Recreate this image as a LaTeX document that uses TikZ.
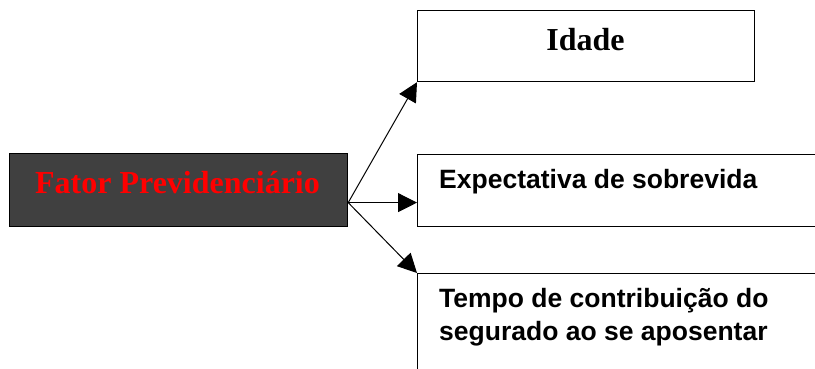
\documentclass[tikz,border=0pt]{standalone}
\usepackage{fontspec}
\setmainfont{Liberation Serif}
\newfontfamily\arialf{Liberation Sans}
\usetikzlibrary{arrows.meta}
\begin{document}
\begin{tikzpicture}[x=1pt,y=1pt,
  box/.style={draw=black, line width=1.2pt, fill=white, inner sep=0pt, anchor=north west},
  conn/.style={line width=1pt, -{Triangle[length=19pt,width=19pt]}},
  serifbold/.style={font=\fontsize{32}{38}\selectfont\bfseries, inner sep=0pt},
  sansbold/.style={font=\arialf\fontsize{26.5}{33}\selectfont\bfseries, inner sep=0pt}]
\clip (0,0) rectangle (815,-368);
\fill[white] (0,0) rectangle (815,-368);
% boxes
\node[box, fill={rgb,255:red,64;green,64;blue,64}, minimum width=338pt, minimum height=73pt] (fator) at (9,-153) {};
\node[box, minimum width=337pt, minimum height=71pt] (idade) at (417,-10) {};
\node[box, minimum width=420pt, minimum height=72pt] (expect) at (417,-154) {};
\node[box, minimum width=420pt, minimum height=120pt] (tempo) at (417,-273) {};
% texts
\node[serifbold, text={rgb,255:red,255;green,0;blue,0}, anchor=base] (fatort) at (177.5,-193) {Fator Previdenciário};
\node[serifbold, anchor=base] (idadet) at (585.5,-50) {Idade};
\node[sansbold, anchor=base west] (expectt) at (439,-188) {Expectativa de sobrevida};
\node[sansbold, anchor=base west] (tempot1) at (439,-307) {Tempo de contribuição do};
\node[sansbold, anchor=base west] (tempot2) at (439,-340) {segurado ao se aposentar};
% connectors
\coordinate (o) at ([yshift=-12.5pt]fator.east);
\coordinate (e) at (o -| expect.west);
\draw[conn] (o) -- (idade.south west);
\draw[conn] (o) -- (e);
\draw[conn] (o) -- (tempo.north west);
\end{tikzpicture}
\end{document}
